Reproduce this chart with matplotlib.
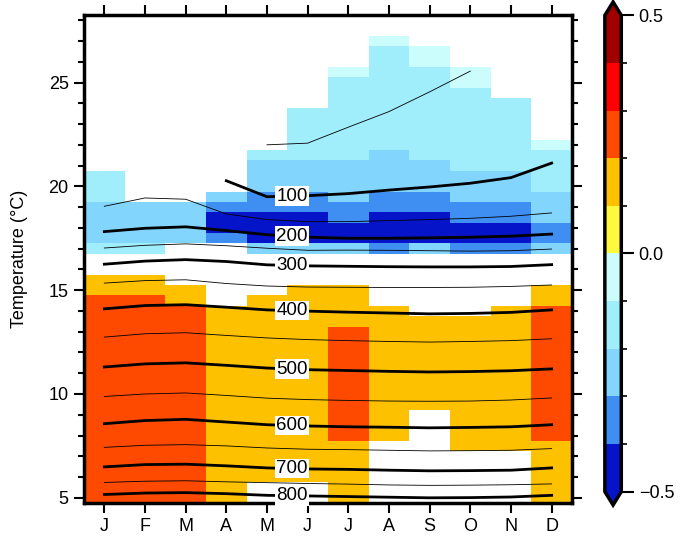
import numpy as np
import matplotlib
matplotlib.use("Agg")
import matplotlib.pyplot as plt
from matplotlib.colors import ListedColormap, BoundaryNorm

plt.rcParams['font.family'] = ['Liberation Sans', 'DejaVu Sans']

months = ['J', 'F', 'M', 'A', 'M', 'J', 'J', 'A', 'S', 'O', 'N', 'D']
temp_centres = np.arange(5.0, 28.01, 0.5)

# colour runs per month: (upper edge, lower edge, value); gaps are white
jan = [(20.75, 19.25, -0.15), (19.25, 17.25, -0.25), (17.25, 16.75, -0.15),
       (15.75, 14.75, 0.15), (14.75, 4.75, 0.25)]
feb = [(19.25, 17.25, -0.25), (17.25, 16.75, -0.15), (15.75, 14.75, 0.15),
       (14.75, 4.75, 0.25)]
mar = [(19.25, 17.25, -0.25), (15.25, 14.25, 0.15), (14.25, 4.75, 0.25)]
apr = [(19.75, 19.25, -0.25), (19.25, 18.75, -0.35), (18.75, 17.75, -0.45),
       (17.75, 17.25, -0.35), (14.25, 4.75, 0.15)]
may = [(21.75, 21.25, -0.15), (21.25, 19.75, -0.25), (19.75, 18.75, -0.35),
       (18.75, 17.25, -0.45), (17.25, 16.75, -0.25), (14.75, 5.75, 0.15)]
jun = [(23.75, 21.25, -0.15), (21.25, 19.75, -0.25), (19.75, 18.75, -0.35),
       (18.75, 17.25, -0.45), (17.25, 16.75, -0.25), (15.25, 5.75, 0.15)]
jul = [(25.75, 25.25, -0.05), (25.25, 21.25, -0.15), (21.25, 19.25, -0.25),
       (19.25, 18.25, -0.35), (18.25, 17.25, -0.45), (17.25, 16.75, -0.25),
       (15.25, 13.25, 0.15), (13.25, 7.75, 0.25), (7.75, 4.75, 0.15)]
aug = [(27.25, 26.75, -0.05), (26.75, 21.75, -0.15), (21.75, 19.75, -0.25),
       (19.75, 18.75, -0.35), (18.75, 17.25, -0.45), (17.25, 16.75, -0.35),
       (14.25, 7.75, 0.15)]
sep = [(26.75, 25.75, -0.05), (25.75, 21.25, -0.15), (21.25, 19.75, -0.25),
       (19.75, 18.75, -0.35), (18.75, 17.25, -0.45), (17.25, 16.75, -0.25),
       (13.75, 9.25, 0.15)]
octo = [(25.75, 24.75, -0.05), (24.75, 20.75, -0.15), (20.75, 19.25, -0.25),
        (19.25, 18.25, -0.35), (18.25, 17.25, -0.45), (17.25, 16.75, -0.35),
        (13.75, 7.25, 0.15)]
nov = [(24.25, 20.75, -0.15), (20.75, 19.25, -0.25), (19.25, 18.25, -0.35),
       (18.25, 17.25, -0.45), (17.25, 16.75, -0.35), (14.25, 7.25, 0.15)]
dec = [(22.25, 21.75, -0.05), (21.75, 19.75, -0.15), (19.75, 18.25, -0.25),
       (18.25, 17.25, -0.35), (17.25, 16.75, -0.25), (15.25, 14.25, 0.15),
       (14.25, 7.75, 0.25), (7.75, 4.75, 0.15)]
month_runs = [jan, feb, mar, apr, may, jun, jul, aug, sep, octo, nov, dec]

# depth isolines (m): temperature where each depth lies, per month
depths = [50, 100, 150, 200, 250, 300, 350, 400, 450, 500, 550, 600, 650, 700, 750, 800]
nan = np.nan
depth_temps = [
    [nan, nan, nan, nan, 22.0, 22.08, 22.85, 23.6, 24.55, 25.55, nan, nan],
    [nan, nan, nan, 20.27, 19.5, 19.55, 19.65, 19.82, 19.97, 20.15, 20.42, 21.12],
    [19.04, 19.44, 19.38, 18.67, 18.4, 18.3, 18.3, 18.35, 18.4, 18.46, 18.56, 18.72],
    [17.82, 17.98, 18.05, 17.87, 17.67, 17.55, 17.5, 17.5, 17.52, 17.55, 17.6, 17.7],
    [17.03, 17.16, 17.23, 17.14, 17.02, 16.92, 16.93, 16.92, 16.9, 16.88, 16.9, 16.98],
    [16.25, 16.4, 16.47, 16.38, 16.22, 16.17, 16.15, 16.13, 16.12, 16.12, 16.14, 16.23],
    [15.34, 15.46, 15.5, 15.32, 15.2, 15.15, 15.14, 15.13, 15.13, 15.14, 15.18, 15.25],
    [14.1, 14.26, 14.3, 14.18, 14.05, 13.99, 13.94, 13.9, 13.86, 13.88, 13.93, 14.05],
    [12.74, 12.9, 12.95, 12.82, 12.7, 12.62, 12.57, 12.53, 12.5, 12.53, 12.57, 12.66],
    [11.3, 11.45, 11.5, 11.38, 11.25, 11.17, 11.13, 11.09, 11.06, 11.08, 11.12, 11.21],
    [9.88, 10.0, 10.05, 9.93, 9.8, 9.73, 9.69, 9.66, 9.65, 9.66, 9.71, 9.81],
    [8.57, 8.72, 8.78, 8.65, 8.52, 8.46, 8.42, 8.4, 8.37, 8.39, 8.42, 8.52],
    [7.43, 7.53, 7.56, 7.5, 7.4, 7.34, 7.32, 7.29, 7.26, 7.27, 7.29, 7.37],
    [6.49, 6.6, 6.62, 6.54, 6.44, 6.39, 6.37, 6.33, 6.3, 6.31, 6.33, 6.44],
    [5.74, 5.8, 5.82, 5.77, 5.73, 5.69, 5.66, 5.62, 5.6, 5.61, 5.63, 5.67],
    [5.16, 5.23, 5.25, 5.2, 5.12, 5.09, 5.06, 5.03, 5.0, 5.01, 5.04, 5.12],
]

levels = np.round(np.arange(-0.5, 0.51, 0.1), 2)
colours = ['#0514c8', '#3f8ff3', '#82d6fd', '#a0edfb', '#cbfdfd',
           '#fef83f', '#fdc100', '#fd4a00', '#fe0000', '#a00000']


def build_grid():
    grid = np.full((len(temp_centres), 12), np.nan)
    for m, runs in enumerate(month_runs):
        for hi, lo, val in runs:
            sel = (temp_centres > lo) & (temp_centres < hi)
            grid[sel, m] = val
    return np.ma.masked_invalid(grid)


def main():
    fig = plt.figure(figsize=(6.85, 5.37), dpi=100)
    ax = fig.add_axes([0.1226, 0.0633, 0.7124, 0.9087])

    cmap = ListedColormap(colours)
    cmap.set_bad('white')
    cmap.set_over(colours[-1])
    cmap.set_under(colours[0])
    norm = BoundaryNorm(levels, cmap.N)

    xedges = np.arange(0.5, 12.51, 1.0)
    yedges = np.arange(4.75, 28.26, 0.5)
    mesh = ax.pcolormesh(xedges, yedges, build_grid(), cmap=cmap, norm=norm)

    x = np.arange(1, 13)
    for d, temps in zip(depths, depth_temps):
        temps = np.array(temps)
        major = d % 100 == 0
        ax.plot(x, temps, color='black', lw=2.0 if major else 0.6, zorder=3)
        if major:
            ok = ~np.isnan(temps)
            ty = np.interp(5.62, x[ok], temps[ok])
            ax.text(5.62, ty, str(d), ha='center', va='center', fontsize=13.5,
                    zorder=4, bbox=dict(fc='white', ec='none', pad=1.0))

    ax.set_xlim(0.5, 12.5)
    ax.set_ylim(4.75, 28.25)
    ax.set_xticks(x)
    ax.set_xticklabels(months)
    ax.set_yticks([5, 10, 15, 20, 25])
    ax.set_yticks(np.arange(5, 29), minor=True)
    ax.tick_params(which='both', direction='out', width=1.5, labelsize=13,
                   top=True, right=True)
    ax.tick_params(which='major', length=7.5)
    ax.tick_params(which='minor', length=4.5)
    ax.tick_params(axis='x', which='minor', top=False, bottom=False)
    for s in ax.spines.values():
        s.set_linewidth(2.5)
    ax.set_ylabel('Temperature (\u00b0C)', fontsize=13, labelpad=15)

    cax = fig.add_axes([0.883, 0.0596, 0.024, 0.9367])
    cb = fig.colorbar(mesh, cax=cax, extend='both', extendfrac=0.028,
                      ticks=[-0.5, 0.0, 0.5], drawedges=False)
    cb.ax.set_yticklabels(['\u22120.5', '0.0', '0.5'])
    cb.ax.yaxis.set_ticks(levels, minor=True)
    cb.ax.tick_params(which='major', length=9, width=1.5, labelsize=13)
    cb.ax.tick_params(which='minor', length=4.5, width=1.2)
    cb.outline.set_linewidth(2.5)

    fig.savefig('out.png', dpi=100)
    plt.close(fig)


if __name__ == "__main__":
    main()
